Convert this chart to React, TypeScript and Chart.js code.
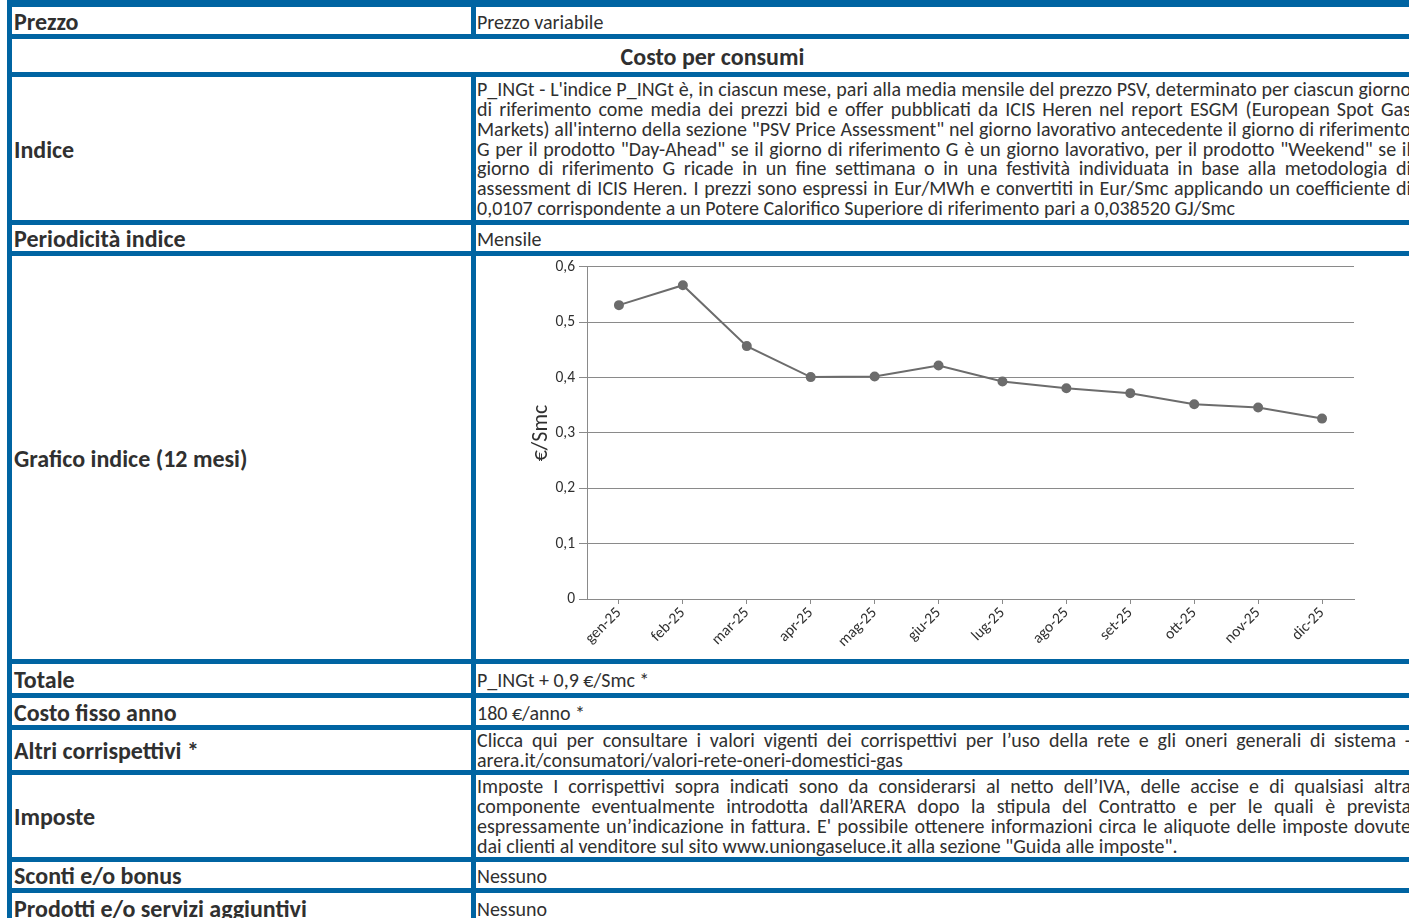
import React, { useEffect, useRef } from "react";
import { Chart, registerables } from "chart.js";

Chart.register(...registerables);

const months = ["gen-25", "feb-25", "mar-25", "apr-25", "mag-25", "giu-25", "lug-25", "ago-25", "set-25", "ott-25", "nov-25", "dic-25"];
const indexValues = [0.531, 0.567, 0.457, 0.401, 0.402, 0.422, 0.393, 0.381, 0.372, 0.352, 0.346, 0.326];
const yMin = 0;
const yMax = 0.6;
const yStep = 0.1;
const yTitle = "€/Smc";

const FONT = "Carlito, Calibri, Lato, 'Open Sans', sans-serif";
const BLUE = "#0064a2";
const TEXT = "#303030";
const GRID = "#8a8a8a";

const indiceLines = [
  "P_INGt - L'indice P_INGt è, in ciascun mese, pari alla media mensile del prezzo PSV, determinato per ciascun giorno",
  "di riferimento come media dei prezzi bid e offer pubblicati da ICIS Heren nel report ESGM (European Spot Gas",
  "Markets) all'interno della sezione \"PSV Price Assessment\" nel giorno lavorativo antecedente il giorno di riferimento",
  "G per il prodotto \"Day-Ahead\" se il giorno di riferimento G è un giorno lavorativo, per il prodotto \"Weekend\" se il",
  "giorno di riferimento G ricade in un fine settimana o in una festività individuata in base alla metodologia di",
  "assessment di ICIS Heren. I prezzi sono espressi in Eur/MWh e convertiti in Eur/Smc applicando un coefficiente di",
  "0,0107 corrispondente a un Potere Calorifico Superiore di riferimento pari a 0,038520 GJ/Smc",
];
const altriLines = [
  "Clicca qui per consultare i valori vigenti dei corrispettivi per l’uso della rete e gli oneri generali di sistema -",
  "arera.it/consumatori/valori-rete-oneri-domestici-gas",
];
const imposteLines = [
  "Imposte I corrispettivi sopra indicati sono da considerarsi al netto dell’IVA, delle accise e di qualsiasi altra",
  "componente eventualmente introdotta dall’ARERA dopo la stipula del Contratto e per le quali è prevista",
  "espressamente un’indicazione in fattura. E' possibile ottenere informazioni circa le aliquote delle imposte dovute",
  "dai clienti al venditore sul sito www.uniongaseluce.it alla sezione \"Guida alle imposte\".",
];

const LABEL_L = 12;
const LABEL_R = 471;
const VAL_L = 476;
const VAL_R = 1412;
const LABEL_SIZE = 24;
const VALUE_SIZE = 20;

type Row = { top: number; bottom: number; label?: string; value?: string; lines?: string[]; merged?: string; chart?: boolean };

const rows: Row[] = [
  { top: 7, bottom: 34, label: "Prezzo", value: "Prezzo variabile" },
  { top: 39, bottom: 72, merged: "Costo per consumi" },
  { top: 77, bottom: 220, label: "Indice", lines: indiceLines },
  { top: 225, bottom: 251, label: "Periodicità indice", value: "Mensile" },
  { top: 256, bottom: 659, label: "Grafico indice (12 mesi)", chart: true },
  { top: 664, bottom: 693, label: "Totale", value: "P_INGt + 0,9 €/Smc *" },
  { top: 698, bottom: 725, label: "Costo fisso anno", value: "180 €/anno *" },
  { top: 730, bottom: 770, label: "Altri corrispettivi *", lines: altriLines },
  { top: 775, bottom: 857, label: "Imposte", lines: imposteLines },
  { top: 862, bottom: 888, label: "Sconti e/o bonus", value: "Nessuno" },
  { top: 893, bottom: 923, label: "Prodotti e/o servizi aggiuntivi", value: "Nessuno" },
];

function IndexChart() {
  const ref = useRef<HTMLCanvasElement | null>(null);
  useEffect(() => {
    if (!ref.current) return;
    const chart = new Chart(ref.current, {
      type: "line",
      data: {
        labels: months,
        datasets: [
          {
            data: indexValues,
            borderColor: "#6c6c6c",
            backgroundColor: "#6c6c6c",
            borderWidth: 2,
            pointRadius: 4,
            pointBackgroundColor: "#6c6c6c",
            pointBorderColor: "#6c6c6c",
            tension: 0,
            fill: false,
          },
        ],
      },
      options: {
        animation: false,
        responsive: false,
        devicePixelRatio: 1,
        layout: { padding: { left: 0, top: 8, right: 58, bottom: 0 } },
        plugins: { legend: { display: false }, tooltip: { enabled: false } },
        scales: {
          x: {
            type: "category",
            offset: true,
            grid: { display: true, offset: false, drawOnChartArea: false, drawTicks: true, tickLength: 5, color: GRID },
            border: { display: true, color: GRID, width: 1 },
            ticks: { minRotation: 45, maxRotation: 45, padding: 0, color: TEXT, font: { family: FONT, size: 15.5 } },
            afterFit: (s: any) => {
              s.height = 60;
            },
          },
          y: {
            min: yMin,
            max: yMax,
            ticks: {
              stepSize: yStep,
              padding: 4,
              color: TEXT,
              font: { family: FONT, size: 15.5, lineHeight: 0.9 },
              callback: (v: any) => (Number(v) === 0 ? "0" : Number(v).toFixed(1).replace(".", ",")),
            },
            grid: { color: GRID, tickLength: 8, drawTicks: true },
            border: { display: true, color: GRID, width: 1 },
            title: { display: true, text: yTitle, color: TEXT, padding: { top: 52, bottom: 0 }, font: { family: FONT, size: 22 } },
            afterFit: (s: any) => {
              s.width = 111;
            },
          },
        },
      },
    });
    return () => chart.destroy();
  }, []);
  return (
    <canvas
      ref={ref}
      width={VAL_R - VAL_L}
      height={403}
      style={{ position: "absolute", left: VAL_L, top: 256, width: VAL_R - VAL_L, height: 403 }}
    />
  );
}

const cellBase: React.CSSProperties = {
  position: "absolute",
  background: "#ffffff",
  display: "flex",
  alignItems: "center",
  boxSizing: "border-box",
  overflow: "hidden",
  color: TEXT,
  fontFamily: FONT,
};

function Lines({ lines }: { lines: string[] }) {
  return (
    <div style={{ width: "100%", fontSize: VALUE_SIZE, lineHeight: "19.8px" }}>
      {lines.map((l, i) => (
        <div
          key={i}
          style={{
            whiteSpace: "nowrap",
            textAlign: i === lines.length - 1 ? "left" : "justify",
            textAlignLast: i === lines.length - 1 ? "left" : "justify",
          }}
        >
          {l}
        </div>
      ))}
    </div>
  );
}

export default function App() {
  return (
    <div style={{ position: "fixed", left: 0, top: 0, width: 1409, height: 918, overflow: "hidden", background: "#fff" }}>
      <div style={{ position: "absolute", left: 7, top: 0, width: 1420, height: 940, background: BLUE }} />
      {rows.map((r, i) => {
        if (r.merged) {
          return (
            <div
              key={i}
              style={{ ...cellBase, left: LABEL_L, top: r.top, width: VAL_R + 1 - LABEL_L, height: r.bottom - r.top, justifyContent: "center", fontWeight: 700, fontSize: LABEL_SIZE, paddingTop: 1 }}
            >
              {r.merged}
            </div>
          );
        }
        return (
          <React.Fragment key={i}>
            <div
              style={{ ...cellBase, left: LABEL_L, top: r.top, width: LABEL_R - LABEL_L, height: r.bottom - r.top, paddingLeft: 2, fontWeight: 700, fontSize: LABEL_SIZE, lineHeight: 1, paddingTop: 2 }}
            >
              {r.label}
            </div>
            <div
              style={{ ...cellBase, left: VAL_L, top: r.top, width: VAL_R - VAL_L, height: r.bottom - r.top, paddingLeft: 1, paddingRight: 1, fontSize: VALUE_SIZE, lineHeight: 1, paddingTop: 2 }}
            >
              {r.lines ? <Lines lines={r.lines} /> : r.chart ? null : r.value}
            </div>
          </React.Fragment>
        );
      })}
      <IndexChart />
    </div>
  );
}
